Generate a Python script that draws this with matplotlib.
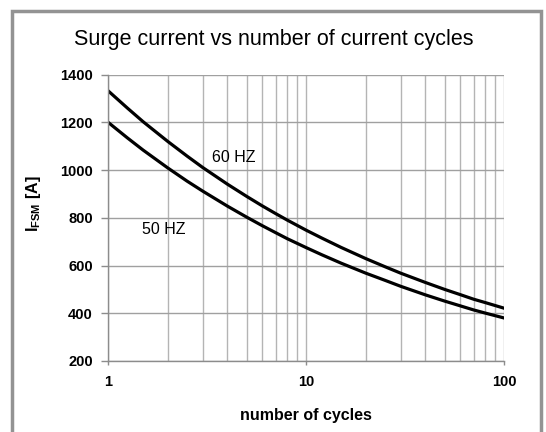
import matplotlib
matplotlib.use('Agg')
import matplotlib.pyplot as plt
from matplotlib.patches import Rectangle

# values
cycles = [1, 1.25, 1.5, 2, 2.5, 3, 4, 5, 6, 7, 8, 10, 12, 15, 20, 25, 30, 40, 50, 60, 70, 80, 100]
i_60hz = [1332, 1260, 1203, 1120, 1059, 1011, 941, 890, 850, 818, 791, 748,
          715, 676, 629, 595, 568, 529, 500, 478, 459, 445, 421]
i_50hz = [1200, 1135, 1084, 1009, 954, 912, 849, 803, 767, 738, 713, 675,
          645, 610, 568, 538, 513, 477, 451, 431, 414, 401, 380]
y_ticks = [200, 400, 600, 800, 1000, 1200, 1400]
x_ticks = [1, 10, 100]

plt.rcParams['font.family'] = ['Liberation Sans', 'DejaVu Sans']
plt.rcParams['mathtext.fontset'] = 'custom'
plt.rcParams['mathtext.rm'] = 'Liberation Sans'
plt.rcParams['mathtext.bf'] = 'Liberation Sans:bold'

fig = plt.figure(figsize=(5.46, 4.32), dpi=100)
ax = fig.add_axes([0.1983, 0.1644, 0.7253, 0.6626])

# outer grey frame
fig.patches.append(Rectangle((12 / 546, -0.05), (541 - 12) / 546, 1.05 - 11 / 432,
                             transform=fig.transFigure, fill=False,
                             edgecolor='#939393', linewidth=2.5))

ax.plot(cycles, i_60hz, color='black', linewidth=2.3)
ax.plot(cycles, i_50hz, color='black', linewidth=2.3)

ax.set_xscale('log')
ax.set_xlim(1, 100)
ax.set_ylim(200, 1400)
ax.set_xticks(x_ticks)
ax.set_xticklabels([str(t) for t in x_ticks])
ax.set_yticks(y_ticks)
ax.minorticks_off()
ax.set_xticks([m * d for d in (1, 10) for m in range(2, 10)], minor=True)
ax.tick_params(axis='x', which='minor', length=0)
ax.grid(True, which='both', axis='x', color='#b4b4b4', linewidth=1.0)
ax.grid(True, which='major', axis='y', color='#a0a0a0', linewidth=1.0)
ax.set_axisbelow(True)

for side in ('top', 'right'):
    ax.spines[side].set_visible(False)
for side in ('left', 'bottom'):
    ax.spines[side].set_color('#8c8c8c')
    ax.spines[side].set_linewidth(1.0)
ax.tick_params(axis='y', which='major', color='#8c8c8c', length=5, width=1.0,
               labelsize=10.5, pad=6)
ax.tick_params(axis='x', which='major', color='#8c8c8c', length=3, width=1.0,
               labelsize=10.5, pad=7)
for lbl in ax.get_xticklabels() + ax.get_yticklabels():
    lbl.set_fontweight('bold')

ax.set_xlabel('number of cycles', fontsize=11.5, fontweight='bold')
ax.xaxis.set_label_coords(0.5, -0.165)
ax.set_ylabel(r'$\mathbf{I}_{\mathbf{FSM}}$ [A]', fontsize=11.5, fontweight='bold')
ax.yaxis.set_label_coords(-0.165, 0.55)
fig.text(274 / 546, 1 - 45 / 432, 'Surge current vs number of current cycles',
         ha='center', va='baseline', fontsize=15.5)

ax.text(3.33, 1053, '60 HZ', fontsize=11.5, va='center', ha='left')
ax.text(1.475, 752, '50 HZ', fontsize=11.5, va='center', ha='left')

fig.savefig('out.png', dpi=100)
